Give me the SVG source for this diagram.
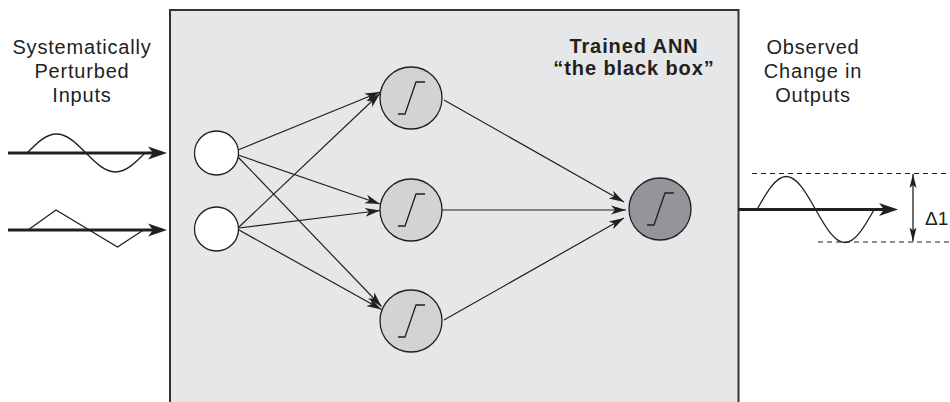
<svg xmlns="http://www.w3.org/2000/svg" width="950" height="402" viewBox="0 0 950 402">
<style>
.lbl{font-family:"Liberation Sans",Arial,sans-serif;font-size:20px;fill:#231f20;text-anchor:middle;letter-spacing:0.8px}
.ttl{font-family:"Liberation Sans",Arial,sans-serif;font-size:20px;font-weight:bold;fill:#231f20;text-anchor:middle;letter-spacing:0.9px}
.conn{stroke:#231f20;stroke-width:1.2;fill:none;marker-end:url(#ah)}
.thick{stroke:#231f20;stroke-width:3;fill:none;marker-end:url(#bigah)}
.wave{stroke:#231f20;stroke-width:1.3;fill:none}
.dash{stroke:#231f20;stroke-width:1.2;stroke-dasharray:5 4;fill:none}
.inp{fill:#ffffff;stroke:#231f20;stroke-width:1.3}
.hid{fill:#d1d3d4;stroke:#231f20;stroke-width:1.3}
.out{fill:#939598;stroke:#231f20;stroke-width:1.3}
.sig{fill:none;stroke:#231f20;stroke-width:1.3}
</style>
<defs>
<marker id="ah" markerUnits="userSpaceOnUse" markerWidth="16" markerHeight="12" refX="15" refY="6" orient="auto">
<path d="M0,1.5 L15,6 L0,10.5 L4,6 Z" fill="#231f20"/>
</marker>
<marker id="bigah" markerUnits="userSpaceOnUse" markerWidth="20" markerHeight="14" refX="5" refY="7" orient="auto">
<path d="M0,0.5 L19,7 L0,13.5 L5,7 Z" fill="#231f20"/>
</marker>
<marker id="dh" markerUnits="userSpaceOnUse" markerWidth="15" markerHeight="10" refX="14" refY="5" orient="auto-start-reverse">
<path d="M0,1.5 L14,5 L0,8.5 L3,5 Z" fill="#231f20"/>
</marker>
<path id="sg" d="M-13,16 H-6 L5,-16 H14"/>
</defs>

<g id="blackbox">
<rect x="170" y="10" width="568.5" height="400" fill="#e6e7e8" stroke="#333333" stroke-width="2"/>
<text class="ttl" x="634" y="53">Trained ANN</text>
<text class="ttl" x="634" y="75">“the black box”</text>
</g>

<g id="label-inputs">
<text class="lbl" x="82" y="54">Systematically</text>
<text class="lbl" x="82" y="78">Perturbed</text>
<text class="lbl" x="82" y="102">Inputs</text>
</g>
<g id="label-outputs">
<text class="lbl" x="813" y="54">Observed</text>
<text class="lbl" x="813" y="78">Change in</text>
<text class="lbl" x="813" y="102">Outputs</text>
</g>

<g id="input-signals">
<path class="wave" d="M27,153 c9.62,-9.73 18.82,-19 29.5,-19 c10.68,0 19.88,9.27 29.5,19 c9.620,9.73 18.82,19 29.5,19 c10.68,0 19.88,-9.27 29.5,-19"/>
<path class="wave" d="M28,230 L56,210 L117.5,247 L143.5,230"/>
</g>

<g id="connectors">
<line class="thick" x1="8" y1="153" x2="153" y2="153"/>
<line class="thick" x1="8" y1="230" x2="153" y2="230"/>
<line class="conn" x1="238" y1="150" x2="380" y2="92"/>
<line class="conn" x1="239" y1="227" x2="380" y2="93.5"/>
<line class="conn" x1="238" y1="155" x2="380" y2="204"/>
<line class="conn" x1="239" y1="228" x2="380" y2="210.5"/>
<line class="conn" x1="238" y1="157" x2="381.5" y2="306.5"/>
<line class="conn" x1="239" y1="230" x2="381.5" y2="309.5"/>
<line class="conn" x1="444" y1="100" x2="624" y2="202"/>
<line class="conn" x1="442" y1="210" x2="626" y2="210"/>
<line class="conn" x1="444" y1="320" x2="624" y2="218"/>
<line class="thick" x1="738" y1="209.5" x2="884" y2="209.5"/>
</g>

<g id="input-1"><circle class="inp" cx="216.5" cy="153" r="22"/></g>
<g id="input-2"><circle class="inp" cx="216.5" cy="229" r="22"/></g>
<g id="hidden-1"><circle class="hid" cx="411" cy="98" r="31"/><use href="#sg" class="sig" x="411" y="98"/></g>
<g id="hidden-2"><circle class="hid" cx="411" cy="210" r="31"/><use href="#sg" class="sig" x="411" y="210"/></g>
<g id="hidden-3"><circle class="hid" cx="411" cy="321" r="31"/><use href="#sg" class="sig" x="411" y="321"/></g>
<g id="output"><circle class="out" cx="660" cy="209" r="31"/><use href="#sg" class="sig" x="660" y="209"/></g>

<g id="output-signal">
<path class="wave" d="M757,209.5 c9.55,-16.9 18.69,-33 29.3,-33 c10.61,0 19.75,16.1 29.3,33 c9.55,16.9 18.69,33 29.3,33 c10.61,0 19.75,-16.1 29.3,-33"/>
<line class="dash" x1="752" y1="173.5" x2="950" y2="173.5"/>
<line class="dash" x1="818" y1="242" x2="950" y2="242"/>
<line x1="913" y1="174" x2="913" y2="241.5" stroke="#231f20" stroke-width="1.3" marker-start="url(#dh)" marker-end="url(#dh)"/>
<text x="925" y="225" font-family="'Liberation Sans',Arial,sans-serif" font-size="19" fill="#231f20">Δ1</text>
</g>
</svg>
